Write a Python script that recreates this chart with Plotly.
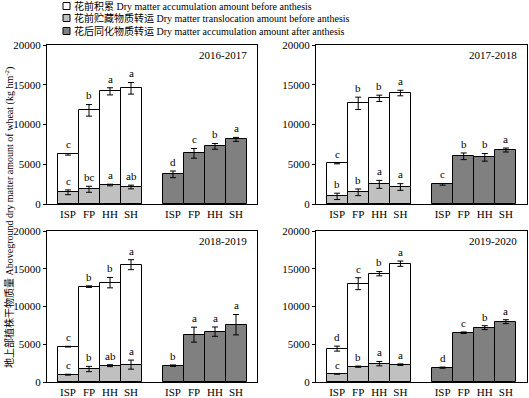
import plotly.graph_objects as go

years = ["2016-2017", "2017-2018", "2018-2019", "2019-2020"]
treatments = ["ISP", "FP", "HH", "SH"]

# Dry matter accumulation amount before anthesis (white)
pre_acc = [
    [6250, 11780, 14170, 14550],
    [5110, 12660, 13290, 13960],
    [4680, 12630, 13160, 15540],
    [4420, 13020, 14350, 15670],
]
pre_acc_err = [
    [100, 730, 450, 730],
    [60, 780, 400, 350],
    [50, 100, 690, 660],
    [330, 790, 290, 350],
]
pre_acc_sig = [
    ["c", "b", "a", "a"],
    ["c", "b", "b", "a"],
    ["c", "b", "b", "a"],
    ["d", "c", "b", "a"],
]

# Dry matter translocation amount before anthesis (light gray)
trans = [
    [1470, 1850, 2390, 2140],
    [960, 1470, 2470, 2140],
    [970, 1720, 2160, 2300],
    [1060, 2030, 2430, 2300],
]
trans_err = [
    [300, 380, 100, 230],
    [400, 420, 500, 420],
    [60, 350, 130, 600],
    [0, 80, 290, 100],
]
trans_sig = [
    ["c", "bc", "a", "ab"],
    ["b", "b", "a", "a"],
    ["c", "b", "ab", "a"],
    ["c", "b", "a", "a"],
]

# Dry matter accumulation amount after anthesis (dark gray)
post_acc = [
    [3730, 6370, 7250, 8130],
    [2470, 6000, 5870, 6790],
    [2160, 6270, 6670, 7590],
    [1900, 6530, 7200, 7990],
]
post_acc_err = [
    [420, 610, 360, 250],
    [100, 420, 480, 250],
    [100, 990, 620, 1350],
    [80, 100, 260, 260],
]
post_acc_sig = [
    ["d", "c", "b", "a"],
    ["c", "b", "b", "a"],
    ["b", "a", "a", "a"],
    ["d", "c", "b", "a"],
]

pos_pre = [1, 2, 3, 4]
pos_post = [6, 7, 8, 9]

legend_names = [
    "花前积累 Dry matter accumulation amount before anthesis",
    "花前贮藏物质转运 Dry matter translocation amount before anthesis",
    "花后同化物质转运 Dry matter accumulation amount after anthesis",
]
legend_colors = ["white", "#c0c0c0", "#808080"]
y_title = "地上部植株干物质量 Aboveground dry matter amount of wheat (kg hm<sup>-2</sup>)"

W, H = 529, 398
FONT = "Times New Roman, Liberation Serif, Noto Sans CJK SC, serif"

# panel pixel boxes: (left, right, top, bottom)
boxes = [(47, 257, 45, 204), (316, 527, 45, 204), (47, 257, 231, 382), (316, 527, 231, 382)]

fig = go.Figure()
layout = {}
annotations = []
shapes = []

for i in range(4):
    xa = "x" if i == 0 else f"x{i+1}"
    ya = "y" if i == 0 else f"y{i+1}"
    fig.add_trace(go.Bar(
        x=pos_pre, y=pre_acc[i], width=1, xaxis=xa, yaxis=ya,
        marker=dict(color=legend_colors[0], line=dict(color="black", width=1)),
        error_y=dict(type="data", array=pre_acc_err[i], color="black", thickness=1, width=3),
        name=legend_names[0], showlegend=False,
    ))
    fig.add_trace(go.Bar(
        x=pos_pre, y=trans[i], width=1, xaxis=xa, yaxis=ya,
        marker=dict(color=legend_colors[1], line=dict(color="black", width=1)),
        error_y=dict(type="data", array=trans_err[i], color="black", thickness=1, width=3),
        name=legend_names[1], showlegend=False,
    ))
    fig.add_trace(go.Bar(
        x=pos_post, y=post_acc[i], width=1, xaxis=xa, yaxis=ya,
        marker=dict(color=legend_colors[2], line=dict(color="black", width=1)),
        error_y=dict(type="data", array=post_acc_err[i], color="black", thickness=1, width=3),
        name=legend_names[2], showlegend=False,
    ))

    l, r, t, b = boxes[i]
    axkey = "xaxis" if i == 0 else f"xaxis{i+1}"
    aykey = "yaxis" if i == 0 else f"yaxis{i+1}"
    layout[axkey] = dict(
        domain=[l / W, r / W], range=[0, 10], anchor=ya,
        tickvals=pos_pre + pos_post, ticktext=treatments + treatments,
        showline=True, linecolor="black", linewidth=1, mirror=True,
        ticks="", showgrid=False, zeroline=False,
        tickfont=dict(family=FONT, size=11, color="black"), automargin=False,
    )
    layout[aykey] = dict(
        domain=[1 - b / H, 1 - t / H], range=[0, 20000], anchor=xa,
        tickvals=[0, 5000, 10000, 15000, 20000], tickformat="d",
        showline=True, linecolor="black", linewidth=1, mirror=True,
        ticks="outside", ticklen=3, tickcolor="black", tickwidth=1,
        showgrid=False, zeroline=False,
        tickfont=dict(family=FONT, size=11, color="black"), automargin=False,
    )
    annotations.append(dict(
        x=9.6, y=18700, xref=xa, yref=ya, text=years[i], showarrow=False,
        xanchor="right", yanchor="middle", font=dict(family=FONT, size=11, color="black"),
    ))
    for j in range(4):
        annotations.append(dict(
            x=pos_pre[j], y=pre_acc[i][j] + pre_acc_err[i][j] + 150, xref=xa, yref=ya,
            text=pre_acc_sig[i][j], showarrow=False, yanchor="bottom",
            font=dict(family=FONT, size=11, color="black"),
        ))
        annotations.append(dict(
            x=pos_pre[j], y=trans[i][j] + trans_err[i][j] + 150, xref=xa, yref=ya,
            text=trans_sig[i][j], showarrow=False, yanchor="bottom",
            font=dict(family=FONT, size=11, color="black"),
        ))
        annotations.append(dict(
            x=pos_post[j], y=post_acc[i][j] + post_acc_err[i][j] + 150, xref=xa, yref=ya,
            text=post_acc_sig[i][j], showarrow=False, yanchor="bottom",
            font=dict(family=FONT, size=11, color="black"),
        ))

# legend (swatch + label rows)
leg_rows_px = [6, 18, 31]
for k in range(3):
    yc = leg_rows_px[k]
    shapes.append(dict(
        type="rect", xref="paper", yref="paper",
        x0=63 / W, x1=70 / W, y0=1 - (yc + 3.5) / H, y1=1 - (yc - 3.5) / H,
        fillcolor=legend_colors[k], line=dict(color="black", width=1),
    ))
    annotations.append(dict(
        x=72 / W, y=1 - yc / H, xref="paper", yref="paper", text=legend_names[k],
        showarrow=False, xanchor="left", yanchor="middle",
        font=dict(family=FONT, size=10, color="black"),
    ))

annotations.append(dict(
    x=9 / W, y=1 - 218 / H, xref="paper", yref="paper", text=y_title,
    showarrow=False, textangle=-90, xanchor="center", yanchor="middle",
    font=dict(family=FONT, size=10, color="black"),
))

fig.update_layout(
    width=W, height=H, margin=dict(l=0, r=0, t=0, b=0),
    paper_bgcolor="white", plot_bgcolor="white",
    barmode="overlay", bargap=0,
    showlegend=False,
    annotations=annotations,
    shapes=shapes,
    **layout,
)

fig.write_html(
    "out.html",
    config={"displayModeBar": False},
    post_script="document.body.style.margin='0';document.body.style.padding='0';",
)
